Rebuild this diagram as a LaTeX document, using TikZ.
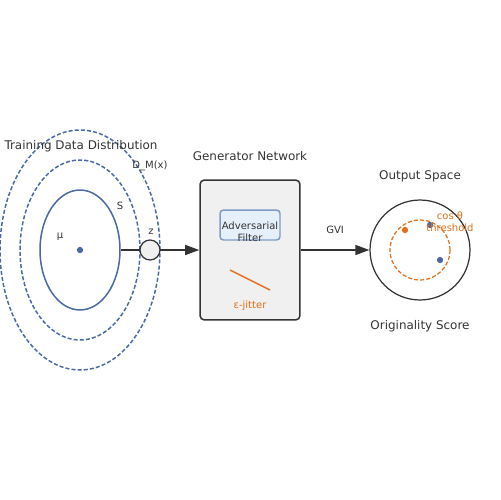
\documentclass[tikz,border=0pt]{standalone}
\usepackage{fontspec}
\setmainfont{DejaVu Sans}
\usetikzlibrary{arrows.meta,shapes.geometric}
\definecolor{dblue}{HTML}{4A6AA5}
\definecolor{dorange}{HTML}{E0701C}
\definecolor{dgray}{HTML}{333333}
\definecolor{boxfill}{HTML}{F0F0F0}
\definecolor{filtfill}{HTML}{E6F0FA}
\definecolor{filtline}{HTML}{7E9CC8}
\tikzset{
  px/.style={x=0.02cm,y=-0.02cm},
  ell/.style={ellipse,draw=dblue,line width=0.85pt,inner sep=0pt},
  dell/.style={ell,dash pattern=on 2.3pt off 1.2pt},
  lbl/.style={text=dgray,font=\fontsize{6.8}{8}\selectfont,inner sep=0pt},
  slbl/.style={text=dgray,font=\fontsize{5.7}{6.8}\selectfont,inner sep=0pt},
  olbl/.style={text=dorange,font=\fontsize{5.7}{6.8}\selectfont,inner sep=0pt},
  conn/.style={draw=dgray,line width=0.85pt,-{Triangle[length=8pt,width=5.7pt]}},
  dot/.style={circle,inner sep=0pt,minimum size=3.6pt},
}
\begin{document}
\begin{tikzpicture}[px]
\useasboundingbox (0,0) rectangle (500,500);
% distribution
\node[dell,minimum width=3.2cm,minimum height=4.8cm] (outer) at (80,250) {};
\node[dell,minimum width=2.4cm,minimum height=3.6cm] (mid) at (80,250) {};
\node[ell,minimum width=1.6cm,minimum height=2.4cm] (inner) at (80,250) {};
\node[dot,fill=dblue] (mu) at (80,250) {};
\node[slbl] (mulbl) at (60,237) {μ};
\node[slbl] (slbl) at (120,206) {S};
\node[slbl] (dmx) at (150,166) {D\_M(x)};
\node[lbl] (title1) at (81,146) {Training Data Distribution};
% generator
\node[draw=dgray,fill=boxfill,line width=0.85pt,rounded corners=2.5pt,minimum width=2cm,minimum height=2.8cm,inner sep=0pt] (gen) at (250,250) {};
\node[lbl] (title2) at (250,156) {Generator Network};
\node[draw=filtline,fill=filtfill,line width=0.85pt,rounded corners=2pt,minimum width=1.2cm,minimum height=0.6cm,inner sep=0pt] (filt) at (250,225) {};
\node[slbl,align=center] (filttxt) at (250,232) {Adversarial\\Filter};
\coordinate (j1) at (230,270);
\coordinate (j2) at (270,290);
\draw[dorange,line width=0.85pt] (j1) -- (j2);
\node[olbl] (jit) at (250,306) {ε-jitter};
% output
\node[circle,draw=dgray,line width=0.7pt,minimum size=2cm,inner sep=0pt] (out) at (420,250) {};
\node[circle,draw=dorange,line width=0.7pt,dash pattern=on 2.3pt off 1.2pt,minimum size=1.2cm,inner sep=0pt] (thr) at (420,250) {};
\node[dot,fill=dorange] (o1) at (405,230) {};
\node[dot,fill=dblue] (b1) at (430,225) {};
\node[dot,fill=dblue] (b2) at (440,260) {};
\node[olbl] (cos) at (450,216) {cos θ};
\node[olbl] (thrt) at (450,228) {threshold};
\node[lbl] (title3) at (420,176) {Output Space};
\node[lbl] (title4) at (420,326) {Originality Score};
% connectors
\draw[conn] (inner.east) -- (gen.west);
\node[circle,draw=dgray,fill=boxfill,line width=0.7pt,minimum size=0.4cm,inner sep=0pt] (z) at (150,250) {};
\node[slbl] (zl) at (151,232) {z};
\draw[conn] (gen.east) -- node[slbl,above=9pt] (gvi) {GVI} (out.west);
\end{tikzpicture}
\end{document}
